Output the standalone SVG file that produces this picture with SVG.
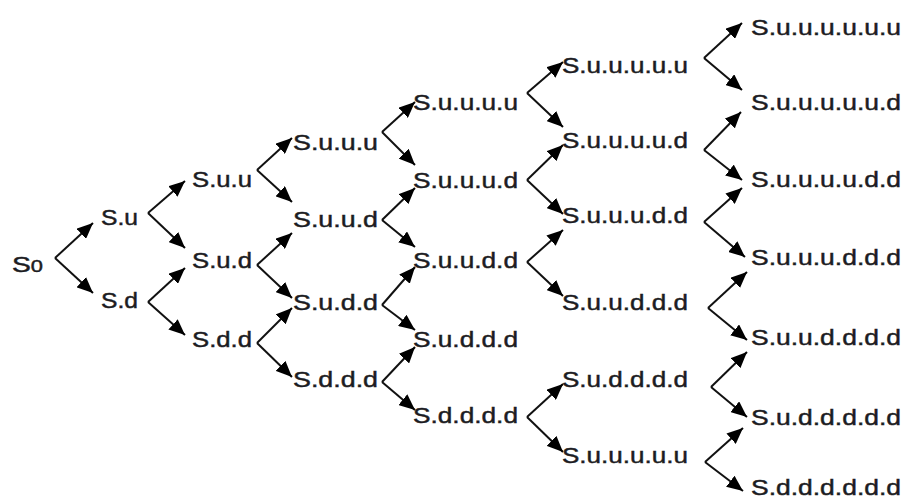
<svg xmlns="http://www.w3.org/2000/svg" width="906" height="501" viewBox="0 0 906 501">
  <defs>
    <marker id="arrow" markerUnits="userSpaceOnUse" markerWidth="16" markerHeight="14" refX="16" refY="7" orient="auto">
      <path d="M0,0 L16,7 L0,14 z" fill="#000"/>
    </marker>
    <style>
      .lbl { font-family: "Liberation Sans", Arial, sans-serif; font-size: 22px; fill: #1c1c22; stroke: #1c1c22; stroke-width: 0.45; }
      .sub { font-size: 17px; }
      #connectors line { stroke: #111; stroke-width: 2; marker-end: url(#arrow); }
    </style>
  </defs>
  <rect width="906" height="501" fill="#fff"/>

  <!-- branches: each pair leaves a vertex to the right of its parent -->
  <g id="connectors">
    <!-- step 1 -->
    <line x1="55" y1="258" x2="93" y2="223"/>
    <line x1="55" y1="258" x2="93" y2="293"/>
    <!-- step 2 -->
    <line x1="148" y1="213" x2="185" y2="181"/>
    <line x1="148" y1="213" x2="185" y2="248"/>
    <line x1="148" y1="302" x2="185" y2="268"/>
    <line x1="148" y1="302" x2="185" y2="335"/>
    <!-- step 3 -->
    <line x1="257" y1="170" x2="292" y2="138"/>
    <line x1="257" y1="170" x2="292" y2="202"/>
    <line x1="257" y1="265" x2="292" y2="233"/>
    <line x1="257" y1="265" x2="292" y2="298"/>
    <line x1="257" y1="343" x2="292" y2="308"/>
    <line x1="257" y1="343" x2="292" y2="377"/>
    <!-- step 4 -->
    <line x1="382" y1="132" x2="415" y2="102"/>
    <line x1="382" y1="132" x2="415" y2="165"/>
    <line x1="382" y1="220" x2="415" y2="188"/>
    <line x1="382" y1="220" x2="415" y2="247"/>
    <line x1="382" y1="305" x2="415" y2="267"/>
    <line x1="382" y1="305" x2="415" y2="330"/>
    <line x1="382" y1="382" x2="415" y2="347"/>
    <line x1="382" y1="382" x2="415" y2="410"/>
    <!-- step 5 -->
    <line x1="527" y1="93" x2="563" y2="62"/>
    <line x1="527" y1="93" x2="563" y2="127"/>
    <line x1="527" y1="180" x2="563" y2="145"/>
    <line x1="527" y1="180" x2="563" y2="214"/>
    <line x1="527" y1="262" x2="563" y2="230"/>
    <line x1="527" y1="262" x2="563" y2="296"/>
    <line x1="527" y1="417" x2="563" y2="384"/>
    <line x1="527" y1="417" x2="563" y2="452"/>
    <!-- step 6 -->
    <line x1="704" y1="58" x2="742" y2="23"/>
    <line x1="704" y1="58" x2="742" y2="90"/>
    <line x1="704" y1="150" x2="741" y2="112"/>
    <line x1="704" y1="150" x2="742" y2="180"/>
    <line x1="704" y1="222" x2="742" y2="188"/>
    <line x1="704" y1="222" x2="745" y2="257"/>
    <line x1="708" y1="308" x2="747" y2="272"/>
    <line x1="708" y1="308" x2="747" y2="340"/>
    <line x1="711" y1="387" x2="747" y2="352"/>
    <line x1="711" y1="387" x2="747" y2="417"/>
    <line x1="705" y1="462" x2="743" y2="428"/>
    <line x1="705" y1="462" x2="743" y2="491"/>
  </g>

  <!-- column 0 -->
  <g id="n0"><text class="lbl" x="12" y="272" textLength="31" lengthAdjust="spacingAndGlyphs" font-size="24">S<tspan class="sub">0</tspan></text></g>

  <!-- column 1 -->
  <g id="n1-u"><text class="lbl" x="101" y="225" textLength="37" lengthAdjust="spacingAndGlyphs">S.u</text></g>
  <g id="n1-d"><text class="lbl" x="101" y="308" textLength="37" lengthAdjust="spacingAndGlyphs">S.d</text></g>

  <!-- column 2 -->
  <g id="n2-uu"><text class="lbl" x="192" y="187" textLength="60" lengthAdjust="spacingAndGlyphs">S.u.u</text></g>
  <g id="n2-ud"><text class="lbl" x="192" y="268" textLength="60" lengthAdjust="spacingAndGlyphs">S.u.d</text></g>
  <g id="n2-dd"><text class="lbl" x="192" y="347" textLength="60" lengthAdjust="spacingAndGlyphs">S.d.d</text></g>

  <!-- column 3 -->
  <g id="n3-uuu"><text class="lbl" x="293" y="150" textLength="85" lengthAdjust="spacingAndGlyphs">S.u.u.u</text></g>
  <g id="n3-uud"><text class="lbl" x="293" y="227" textLength="85" lengthAdjust="spacingAndGlyphs">S.u.u.d</text></g>
  <g id="n3-udd"><text class="lbl" x="293" y="310" textLength="85" lengthAdjust="spacingAndGlyphs">S.u.d.d</text></g>
  <g id="n3-ddd"><text class="lbl" x="293" y="387" textLength="85" lengthAdjust="spacingAndGlyphs">S.d.d.d</text></g>

  <!-- column 4 -->
  <g id="n4-1"><text class="lbl" x="413" y="110" textLength="105" lengthAdjust="spacingAndGlyphs">S.u.u.u.u</text></g>
  <g id="n4-2"><text class="lbl" x="413" y="188" textLength="105" lengthAdjust="spacingAndGlyphs">S.u.u.u.d</text></g>
  <g id="n4-3"><text class="lbl" x="413" y="268" textLength="105" lengthAdjust="spacingAndGlyphs">S.u.u.d.d</text></g>
  <g id="n4-4"><text class="lbl" x="413" y="347" textLength="105" lengthAdjust="spacingAndGlyphs">S.u.d.d.d</text></g>
  <g id="n4-5"><text class="lbl" x="413" y="423" textLength="105" lengthAdjust="spacingAndGlyphs">S.d.d.d.d</text></g>

  <!-- column 5 -->
  <g id="n5-1"><text class="lbl" x="562" y="73" textLength="126" lengthAdjust="spacingAndGlyphs">S.u.u.u.u.u</text></g>
  <g id="n5-2"><text class="lbl" x="562" y="148" textLength="126" lengthAdjust="spacingAndGlyphs">S.u.u.u.u.d</text></g>
  <g id="n5-3"><text class="lbl" x="562" y="223" textLength="126" lengthAdjust="spacingAndGlyphs">S.u.u.u.d.d</text></g>
  <g id="n5-4"><text class="lbl" x="562" y="310" textLength="126" lengthAdjust="spacingAndGlyphs">S.u.u.d.d.d</text></g>
  <g id="n5-5"><text class="lbl" x="562" y="387" textLength="126" lengthAdjust="spacingAndGlyphs">S.u.d.d.d.d</text></g>
  <g id="n5-6"><text class="lbl" x="562" y="463" textLength="126" lengthAdjust="spacingAndGlyphs">S.u.u.u.u.u</text></g>

  <!-- column 6 -->
  <g id="n6-1"><text class="lbl" x="751" y="35" textLength="150" lengthAdjust="spacingAndGlyphs">S.u.u.u.u.u.u</text></g>
  <g id="n6-2"><text class="lbl" x="751" y="110" textLength="150" lengthAdjust="spacingAndGlyphs">S.u.u.u.u.u.d</text></g>
  <g id="n6-3"><text class="lbl" x="751" y="187" textLength="150" lengthAdjust="spacingAndGlyphs">S.u.u.u.u.d.d</text></g>
  <g id="n6-4"><text class="lbl" x="751" y="265" textLength="150" lengthAdjust="spacingAndGlyphs">S.u.u.u.d.d.d</text></g>
  <g id="n6-5"><text class="lbl" x="751" y="345" textLength="150" lengthAdjust="spacingAndGlyphs">S.u.u.d.d.d.d</text></g>
  <g id="n6-6"><text class="lbl" x="751" y="425" textLength="150" lengthAdjust="spacingAndGlyphs">S.u.d.d.d.d.d</text></g>
  <g id="n6-7"><text class="lbl" x="751" y="495" textLength="150" lengthAdjust="spacingAndGlyphs">S.d.d.d.d.d.d</text></g>
</svg>
